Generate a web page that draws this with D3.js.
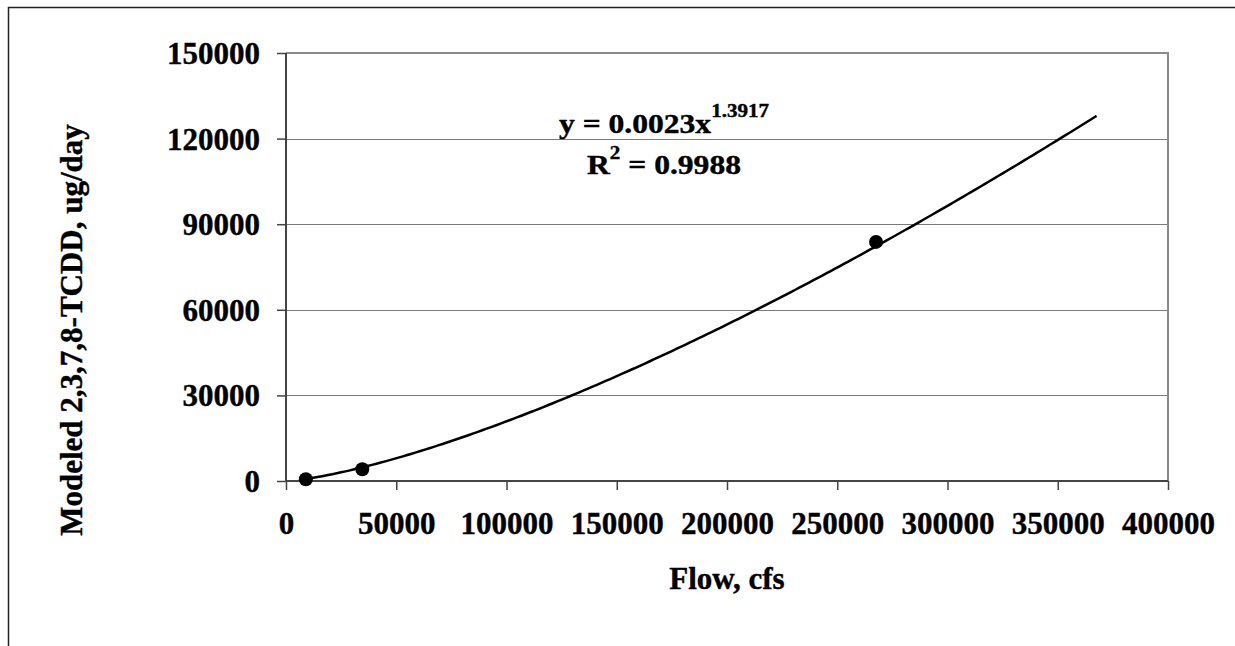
<!DOCTYPE html>
<html>
<head>
<meta charset="utf-8">
<script src="https://cdn.jsdelivr.net/npm/d3@7"></script>
<style>
  body { margin: 0; background: #fff; }
  text { font-family: "Liberation Serif", "Times New Roman", serif; font-weight: bold; fill: #000; stroke: #000; stroke-width: 0.4px; }
</style>
</head>
<body>
<div id="chart"></div>
<script>
// Data
var flow = [9000, 34600, 267600];
var tcdd = [600, 4100, 83800];
var xTicks = [0, 50000, 100000, 150000, 200000, 250000, 300000, 350000, 400000];
var yTicks = [0, 30000, 60000, 90000, 120000, 150000];
// Power trendline shown on the chart: y = a * x^b
var trendA = 0.0023;
var trendB = 1.3917;
var trendR2 = 0.9988;
var trendForward = 100000;

var width = 1235,
    height = 646;
var margin = { left: 286, right: 1168, top: 53, bottom: 481 };

var svg = d3.select("#chart").append("svg")
    .attr("width", width)
    .attr("height", height);

// outer chart frame (runs off the picture on the right and bottom)
svg.append("rect")
    .attr("x", 8.5).attr("y", 7.5)
    .attr("width", 1400).attr("height", 800)
    .attr("fill", "none")
    .attr("stroke", "#222")
    .attr("stroke-width", 1.5);

var x = d3.scaleLinear().domain([0, 400000]).range([margin.left, margin.right]);
var y = d3.scaleLinear().domain([0, 150000]).range([margin.bottom, margin.top]);

// gridlines
svg.append("g")
    .selectAll("line")
    .data(yTicks.slice(1, -1))
    .enter().append("line")
    .attr("x1", margin.left).attr("x2", margin.right)
    .attr("y1", function(d) { return Math.round(y(d)) + 0.5; })
    .attr("y2", function(d) { return Math.round(y(d)) + 0.5; })
    .attr("stroke", "#7a7a7a")
    .attr("stroke-width", 1);

// plot area border, top and right
svg.append("path")
    .attr("d", "M" + margin.left + "," + margin.top + "H" + margin.right + "V" + margin.bottom)
    .attr("fill", "none")
    .attr("stroke", "#8a8a8a")
    .attr("stroke-width", 2);

// axes
var xAxis = svg.append("g")
    .attr("transform", "translate(0," + margin.bottom + ")")
    .call(d3.axisBottom(x).tickValues(xTicks).tickFormat(d3.format("d")).tickSize(9).tickPadding(22));
var yAxis = svg.append("g")
    .attr("transform", "translate(" + margin.left + ",0)")
    .call(d3.axisLeft(y).tickValues(yTicks).tickFormat(d3.format("d")).tickSize(9).tickPadding(17));

[xAxis, yAxis].forEach(function(g) {
    g.select(".domain").attr("stroke", "#444").attr("stroke-width", 2);
    g.selectAll(".tick line").attr("stroke", "#444").attr("stroke-width", 1.5);
    g.selectAll(".tick text")
        .style("font-size", "31px")
        .attr("fill", "#000");
});
xAxis.select(".domain").attr("d", "M" + margin.left + ",0H" + margin.right);
yAxis.select(".domain").attr("d", "M0," + margin.bottom + "V" + margin.top);
yAxis.selectAll(".tick text").attr("dy", "0.34em");

// trendline
var trendX = d3.range(d3.min(flow), d3.max(flow) + trendForward, 2000).concat([d3.max(flow) + trendForward]);
var line = d3.line()
    .x(function(d) { return x(d); })
    .y(function(d) { return y(trendA * Math.pow(d, trendB)); });
svg.append("path")
    .datum(trendX)
    .attr("d", line)
    .attr("fill", "none")
    .attr("stroke", "#000")
    .attr("stroke-width", 2.5);

// data points
svg.append("g")
    .selectAll("circle")
    .data(flow)
    .enter().append("circle")
    .attr("cx", function(d) { return x(d); })
    .attr("cy", function(d, i) { return y(tcdd[i]); })
    .attr("r", 7)
    .attr("fill", "#000");

// equation label
var eq = svg.append("g")
    .attr("transform", "translate(664,0) scale(1.17,1)");
var l1 = eq.append("text").attr("y", 133).attr("text-anchor", "middle").style("font-size", "27px");
l1.append("tspan").text("y = " + trendA + "x");
l1.append("tspan").attr("dy", -16).style("font-size", "18px").text(trendB);
var l2 = eq.append("text").attr("y", 174).attr("text-anchor", "middle").style("font-size", "27px");
l2.append("tspan").text("R");
l2.append("tspan").attr("dy", -15).style("font-size", "18px").text("2");
l2.append("tspan").attr("dy", 15).text(" = " + trendR2);

// axis titles
svg.append("text")
    .attr("x", (margin.left + margin.right) / 2)
    .attr("y", 589)
    .attr("text-anchor", "middle")
    .style("font-size", "31px")
    .text("Flow, cfs");
svg.append("text")
    .attr("transform", "translate(82,330) rotate(-90)")
    .attr("text-anchor", "middle")
    .style("font-size", "31px")
    .text("Modeled 2,3,7,8-TCDD, ug/day");
</script>
</body>
</html>
